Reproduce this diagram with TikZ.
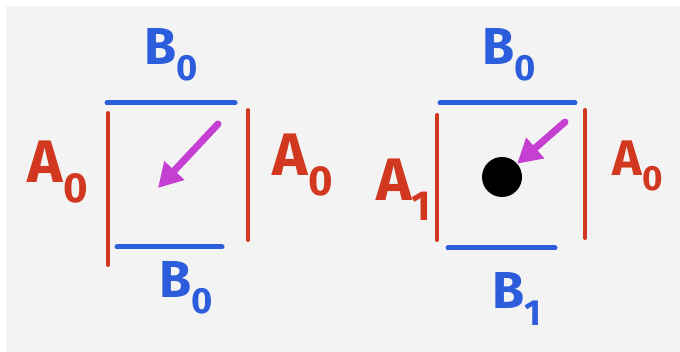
\documentclass[tikz,border=0pt]{standalone}
\usepackage{fontspec}
\setmainfont{Fira Sans}
\usetikzlibrary{arrows.meta}
\definecolor{paper}{HTML}{F3F3F3}
\definecolor{redpen}{HTML}{D2381F}
\definecolor{bluepen}{HTML}{2B5DDC}
\definecolor{pinkpen}{HTML}{C43FD2}
\tikzset{
  aside/.style={draw=redpen,line width=4pt,line cap=round},
  bside/.style={draw=bluepen,line width=5pt,line cap=round},
  alab/.style={text=redpen,inner sep=0pt,font=\fontsize{60}{60}\selectfont\bfseries},
  alabs/.style={alab,font=\fontsize{50}{50}\selectfont\bfseries},
  blab/.style={text=bluepen,inner sep=0pt,font=\fontsize{52}{52}\selectfont\bfseries},
  flow/.style={-{Triangle[length=24pt,width=26pt]},draw=pinkpen,line width=7pt,line cap=round},
  ball/.style={circle,fill=black,minimum size=40pt,inner sep=0pt},
}
\begin{document}
\begin{tikzpicture}[x=1pt,y=-1pt]
\useasboundingbox (0,0) rectangle (680,352);
\fill[paper] (6,6) rectangle (680,352);
\coordinate (ltopl) at (107,103); \coordinate (ltopr) at (235,103);
\coordinate (lbotl) at (117,247); \coordinate (lbotr) at (222,247);
\coordinate (llefu) at (108,113); \coordinate (llefd) at (108,265);
\coordinate (lrigu) at (248,110); \coordinate (lrigd) at (248,240);
\draw[bside] (ltopl) -- (ltopr);
\draw[bside] (lbotl) -- (lbotr);
\draw[aside] (llefu) -- (llefd);
\draw[aside] (lrigu) -- (lrigd);
\coordinate (lflow) at (218,124); \coordinate (lhit) at (158,188);
\draw[flow] (lflow) -- (lhit);
\node[blab] (lbtop) at (171,55) {B\textsubscript{0}};
\node[blab] (lbbot) at (186,288) {B\textsubscript{0}};
\node[alab] (laleft) at (58,172) {A\textsubscript{0}};
\node[alab] (laright) at (303,165) {A\textsubscript{0}};
\coordinate (rtopl) at (440,103); \coordinate (rtopr) at (575,103);
\coordinate (rbotl) at (448,248); \coordinate (rbotr) at (555,248);
\coordinate (rlefu) at (437,115); \coordinate (rlefd) at (437,240);
\coordinate (rrigu) at (585,110); \coordinate (rrigd) at (585,238);
\draw[bside] (rtopl) -- (rtopr);
\draw[bside] (rbotl) -- (rbotr);
\draw[aside] (rlefu) -- (rlefd);
\draw[aside] (rrigu) -- (rrigd);
\node[ball] (dot) at (502,177) {};
\coordinate (rflow) at (565,122);
\draw[flow] (rflow) -- (dot);
\node[blab] (rbtop) at (509,55) {B\textsubscript{0}};
\node[blab] (rbbot) at (517,299) {B\textsubscript{1}};
\node[alab] (raleft) at (404,190) {A\textsubscript{1}};
\node[alabs] (raright) at (638,166) {A\textsubscript{0}};
\end{tikzpicture}
\end{document}
